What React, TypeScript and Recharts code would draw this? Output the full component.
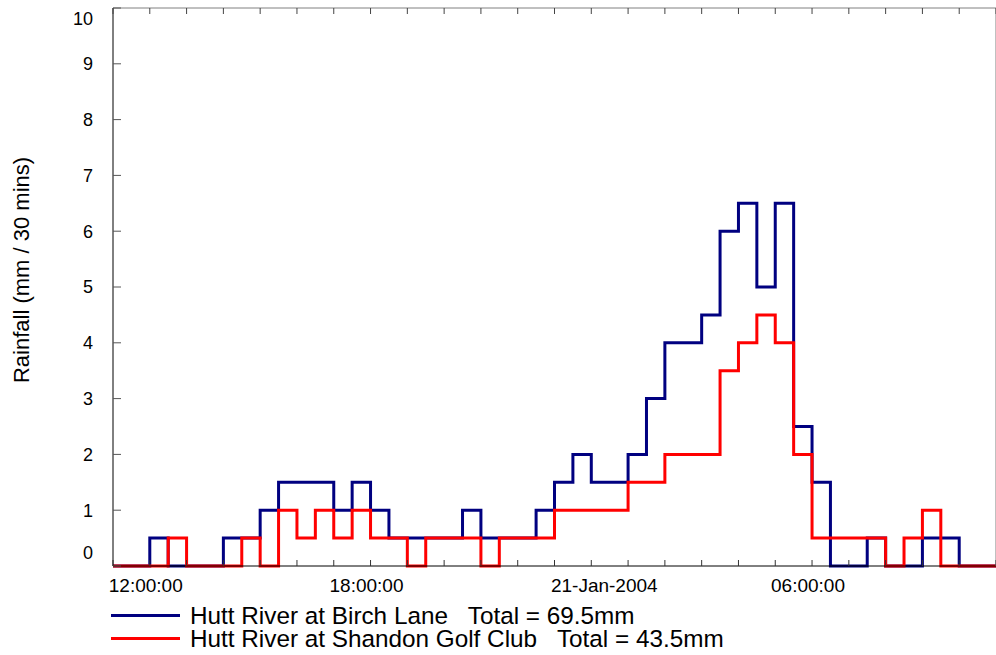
import { LineChart, Line, XAxis, YAxis, Legend } from 'recharts';

// half-hour rainfall (mm), slots from 11:00 20-Jan-2004 to 11:00 21-Jan-2004
const birchLane = [
  0, 0, 0.5, 0, 0, 0, 0.5, 0.5, 1, 1.5,
  1.5, 1.5, 1, 1.5, 1, 0.5, 0.5, 0.5, 0.5, 1,
  0.5, 0.5, 0.5, 1, 1.5, 2, 1.5, 1.5, 2, 3,
  4, 4, 4.5, 6, 6.5, 5, 6.5, 2.5, 1.5, 0,
  0, 0.5, 0, 0, 0.5, 0.5, 0, 0,
];
const shandonGolf = [
  0, 0, 0, 0.5, 0, 0, 0, 0.5, 0, 1,
  0.5, 1, 0.5, 1, 0.5, 0.5, 0, 0.5, 0.5, 0.5,
  0, 0.5, 0.5, 0.5, 1, 1, 1, 1, 1.5, 1.5,
  2, 2, 2, 3.5, 4, 4.5, 4, 2, 0.5, 0.5,
  0.5, 0.5, 0, 0.5, 1, 0, 0, 0,
];

const seriesNames = ['Hutt River at Birch Lane', 'Hutt River at Shandon Golf Club'];

// x axis in half-hour slot units; ticks every hour
const hourTicks = Array.from({ length: 25 }, (_, k) => k * 2);
const majorTicks = [2, 14, 26, 38];
const majorLabels = ['12:00:00', '18:00:00', '21-Jan-2004', '06:00:00'];
const yTicks = [0, 1, 2, 3, 4, 5, 6, 7, 8, 9, 10];

const FONT = "'Liberation Sans', Arial, Helvetica, sans-serif";

// closing point repeats the last slot so the final step is drawn
const rows = Array.from({ length: birchLane.length + 1 }, (_, i) => ({
  t: i,
  birch: birchLane[Math.min(i, birchLane.length - 1)],
  shandon: shandonGolf[Math.min(i, shandonGolf.length - 1)],
}));

const sum = (a: number[]) => a.reduce((s, v) => s + v, 0);

function BottomTick({ x, y, payload }: any) {
  const idx = majorTicks.indexOf(payload.value);
  const label = idx >= 0 ? majorLabels[idx] : null;
  const dx = label && label.includes('-') ? 13 : -4;
  return (
    <g>
      <line x1={x} x2={x} y1={y} y2={y - 6} stroke="#333" />
      {label && (
        <text x={x + dx} y={y + 26} textAnchor="middle" fontSize={19} fill="#000" fontFamily={FONT}>
          {label}
        </text>
      )}
    </g>
  );
}

function TopTick({ x, y }: any) {
  return <line x1={x} x2={x} y1={y} y2={y + 6} stroke="#444" />;
}

function LeftTick({ x, y, payload }: any) {
  const v = payload.value;
  const shift = v === 10 ? 11 : v === 0 ? -13 : 0;
  return (
    <g>
      <line x1={x} x2={x + 8} y1={y} y2={y} stroke="#555" />
      <text x={x - 20} y={y + shift + 6.4} textAnchor="end" fontSize={18} fill="#000" fontFamily={FONT}>
        {v}
      </text>
    </g>
  );
}

function RightTick({ x, y }: any) {
  return <line x1={x} x2={x - 8} y1={y} y2={y} stroke="#444" />;
}

function YTitle({ viewBox }: any) {
  const cx = viewBox.x + 21;
  const cy = viewBox.y + viewBox.height / 2 - 17;
  return (
    <text
      x={cx}
      y={cy}
      transform={`rotate(-90 ${cx} ${cy})`}
      textAnchor="middle"
      dominantBaseline="central"
      fontSize={22}
      fill="#000"
      fontFamily={FONT}
    >
      Rainfall (mm / 30 mins)
    </text>
  );
}

function LegendBox({ payload }: any) {
  return (
    <div style={{ fontFamily: FONT }}>
      {(payload ?? []).map((item: any) => {
        const total = sum(item.dataKey === 'birch' ? birchLane : shandonGolf);
        return (
          <div key={item.dataKey} style={{ display: 'flex', alignItems: 'center', height: 23 }}>
            <span style={{ display: 'inline-block', width: 69, height: 3, background: item.color, marginRight: 10 }} />
            <span style={{ fontSize: 24.3, lineHeight: '23px', whiteSpace: 'pre', color: '#000' }}>
              {`${item.value}   Total = ${total}mm`}
            </span>
          </div>
        );
      })}
    </div>
  );
}

export default function App() {
  return (
    <div
      style={{
        position: 'absolute',
        left: 0,
        top: 0,
        width: 996,
        height: 655,
        overflow: 'hidden',
        background: '#fff',
        fontFamily: FONT,
      }}
    >
      <LineChart width={1000} height={655} data={rows} margin={{ top: 0, right: 0, bottom: 0, left: 0 }}>
        <XAxis
          dataKey="t"
          type="number"
          domain={[0, 48]}
          ticks={hourTicks}
          interval={0}
          height={89}
          axisLine={{ stroke: '#000' }}
          tickLine={false}
          tickSize={0}
          tickMargin={0}
          tick={<BottomTick />}
        />
        <XAxis
          xAxisId="top"
          orientation="top"
          type="number"
          domain={[0, 48]}
          ticks={hourTicks}
          interval={0}
          height={8}
          axisLine={{ stroke: '#808080' }}
          tickLine={false}
          tickSize={0}
          tickMargin={0}
          tick={<TopTick />}
        />
        <YAxis
          type="number"
          domain={[0, 10]}
          ticks={yTicks}
          interval={0}
          width={113}
          axisLine={{ stroke: '#000' }}
          tickLine={false}
          tickSize={0}
          tickMargin={0}
          tick={<LeftTick />}
          label={<YTitle />}
        />
        <YAxis
          yAxisId="right"
          orientation="right"
          type="number"
          domain={[0, 10]}
          ticks={yTicks}
          interval={0}
          width={4}
          axisLine={{ stroke: '#808080' }}
          tickLine={false}
          tickSize={0}
          tickMargin={0}
          tick={<RightTick />}
        />
        <Legend
          verticalAlign="middle"
          align="center"
          layout="horizontal"
          wrapperStyle={{ top: 604, left: 111, width: 760, height: 46 }}
          content={<LegendBox />}
        />
        <Line
          type="stepAfter"
          dataKey="birch"
          name={seriesNames[0]}
          stroke="#000080"
          strokeWidth={3}
          dot={false}
          activeDot={false}
          isAnimationActive={false}
        />
        <Line
          type="stepAfter"
          dataKey="shandon"
          name={seriesNames[1]}
          stroke="#ff0000"
          strokeWidth={3}
          dot={false}
          activeDot={false}
          isAnimationActive={false}
        />
      </LineChart>
    </div>
  );
}
